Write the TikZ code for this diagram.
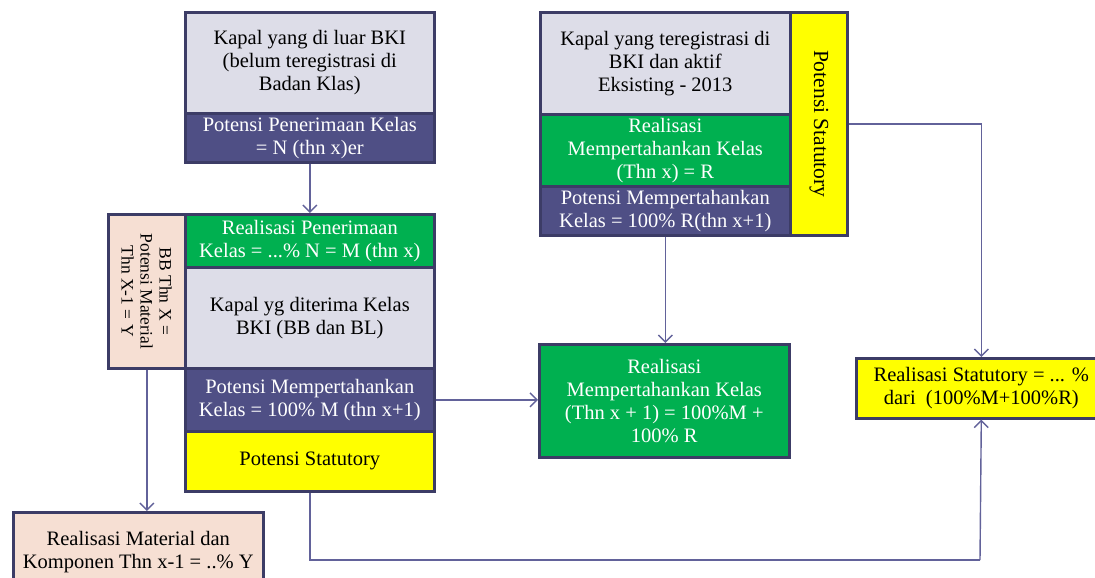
\documentclass[tikz,border=0pt]{standalone}
\usepackage{fontspec}
\setmainfont{Liberation Serif}
\usetikzlibrary{arrows.meta,positioning}
\definecolor{bordc}{HTML}{3C3C66}
\definecolor{grayf}{HTML}{DDDDE8}
\definecolor{purpf}{HTML}{4F4F85}
\definecolor{greenf}{HTML}{00B050}
\definecolor{yellf}{HTML}{FFFF00}
\definecolor{peachf}{HTML}{F6DFD3}
\definecolor{linec}{HTML}{62629A}
\tikzset{
  box/.style={draw=bordc, line width=2.6pt, inner sep=0pt, align=center, anchor=north west,
    font=\fontsize{20.5}{23}\selectfont},
  graybox/.style={box, fill=grayf, text=black},
  purpbox/.style={box, fill=purpf, text=white},
  greenbox/.style={box, fill=greenf, text=white},
  yellbox/.style={box, fill=yellf, text=black},
  peachbox/.style={box, fill=peachf, text=black},
  conn/.style={draw=linec, line width=1.4pt, -{Straight Barb[length=7pt,width=14pt,line width=1.4pt]}},
  plain/.style={draw=linec, line width=1.4pt}
}
\begin{document}
\begin{tikzpicture}[x=1pt,y=-1pt]
\useasboundingbox (0,0) rectangle (1095,578);
% top left group
\node[graybox, minimum width=249, minimum height=101] (kl) at (184,11) {Kapal yang di luar BKI\\(belum teregistrasi di\\Badan Klas)};
\node[purpbox, minimum width=249, minimum height=49] (ppk) at (184,112) {Potensi Penerimaan Kelas\\= N (thn x)er};
% middle left group
\node[peachbox, minimum width=77, minimum height=154] (bb) at (107,213) {};
\node[rotate=-90, align=center, font=\fontsize{17.5}{19}\selectfont] at (bb.center) {BB Thn X =\\Potensi Material\\Thn X-1 = Y};
\node[greenbox, minimum width=249, minimum height=53] (rpk) at (184,213) {Realisasi Penerimaan\\Kelas = ...\% N = M (thn x)};
\node[graybox, minimum width=249, minimum height=101] (kyg) at (184,266) {Kapal yg diterima Kelas\\BKI (BB dan BL)};
\node[purpbox, minimum width=249, minimum height=63] (pmk) at (184,367) {Potensi Mempertahankan\\Kelas = 100\% M (thn x+1)};
\node[yellbox, minimum width=249, minimum height=60] (ps) at (184,430) {Potensi Statutory};
% bottom left
\node[peachbox, minimum width=250, minimum height=80] (rm) at (12,511) {Realisasi Material dan\\Komponen Thn x-1 = ..\% Y};
% right top group
\node[graybox, minimum width=250, minimum height=102] (kt) at (539,11) {Kapal yang teregistrasi di\\BKI dan aktif\\Eksisting - 2013};
\node[greenbox, minimum width=250, minimum height=72] (rmk) at (539,113) {Realisasi\\Mempertahankan Kelas\\(Thn x) = R};
\node[purpbox, minimum width=250, minimum height=49] (pmr) at (539,185) {Potensi Mempertahankan\\Kelas = 100\% R(thn x+1)};
\node[yellbox, minimum width=57, minimum height=223] (psv) at (789,11) {};
\node[rotate=-90, font=\fontsize{21.5}{24}\selectfont] at (psv.center) {Potensi Statutory};
% green result
\node[greenbox, minimum width=250, minimum height=113] (rmk2) at (538,343) {Realisasi\\Mempertahankan Kelas\\(Thn x + 1) = 100\%M +\\100\% R};
% yellow result
\node[yellbox, minimum width=250, minimum height=60] (rs) at (855,357) {Realisasi Statutory = ... \%\\dari\ \ (100\%M+100\%R)};
% connectors
\draw[conn] (ppk.south) -- (ppk.south |- rpk.north);
\draw[conn] (bb.south) -- (bb.south |- rm.north);
\draw[conn] (pmk.east) -- (pmk.east -| rmk2.west);
\draw[conn] (pmr.south) -- (pmr.south |- rmk2.north);
\draw[conn] (psv.east) -| (rs.north);
\coordinate (turn) at (980,560);
\draw[plain] (ps.south) |- (turn);
\draw[conn] (turn) -- (rs.south);
\end{tikzpicture}
\end{document}
